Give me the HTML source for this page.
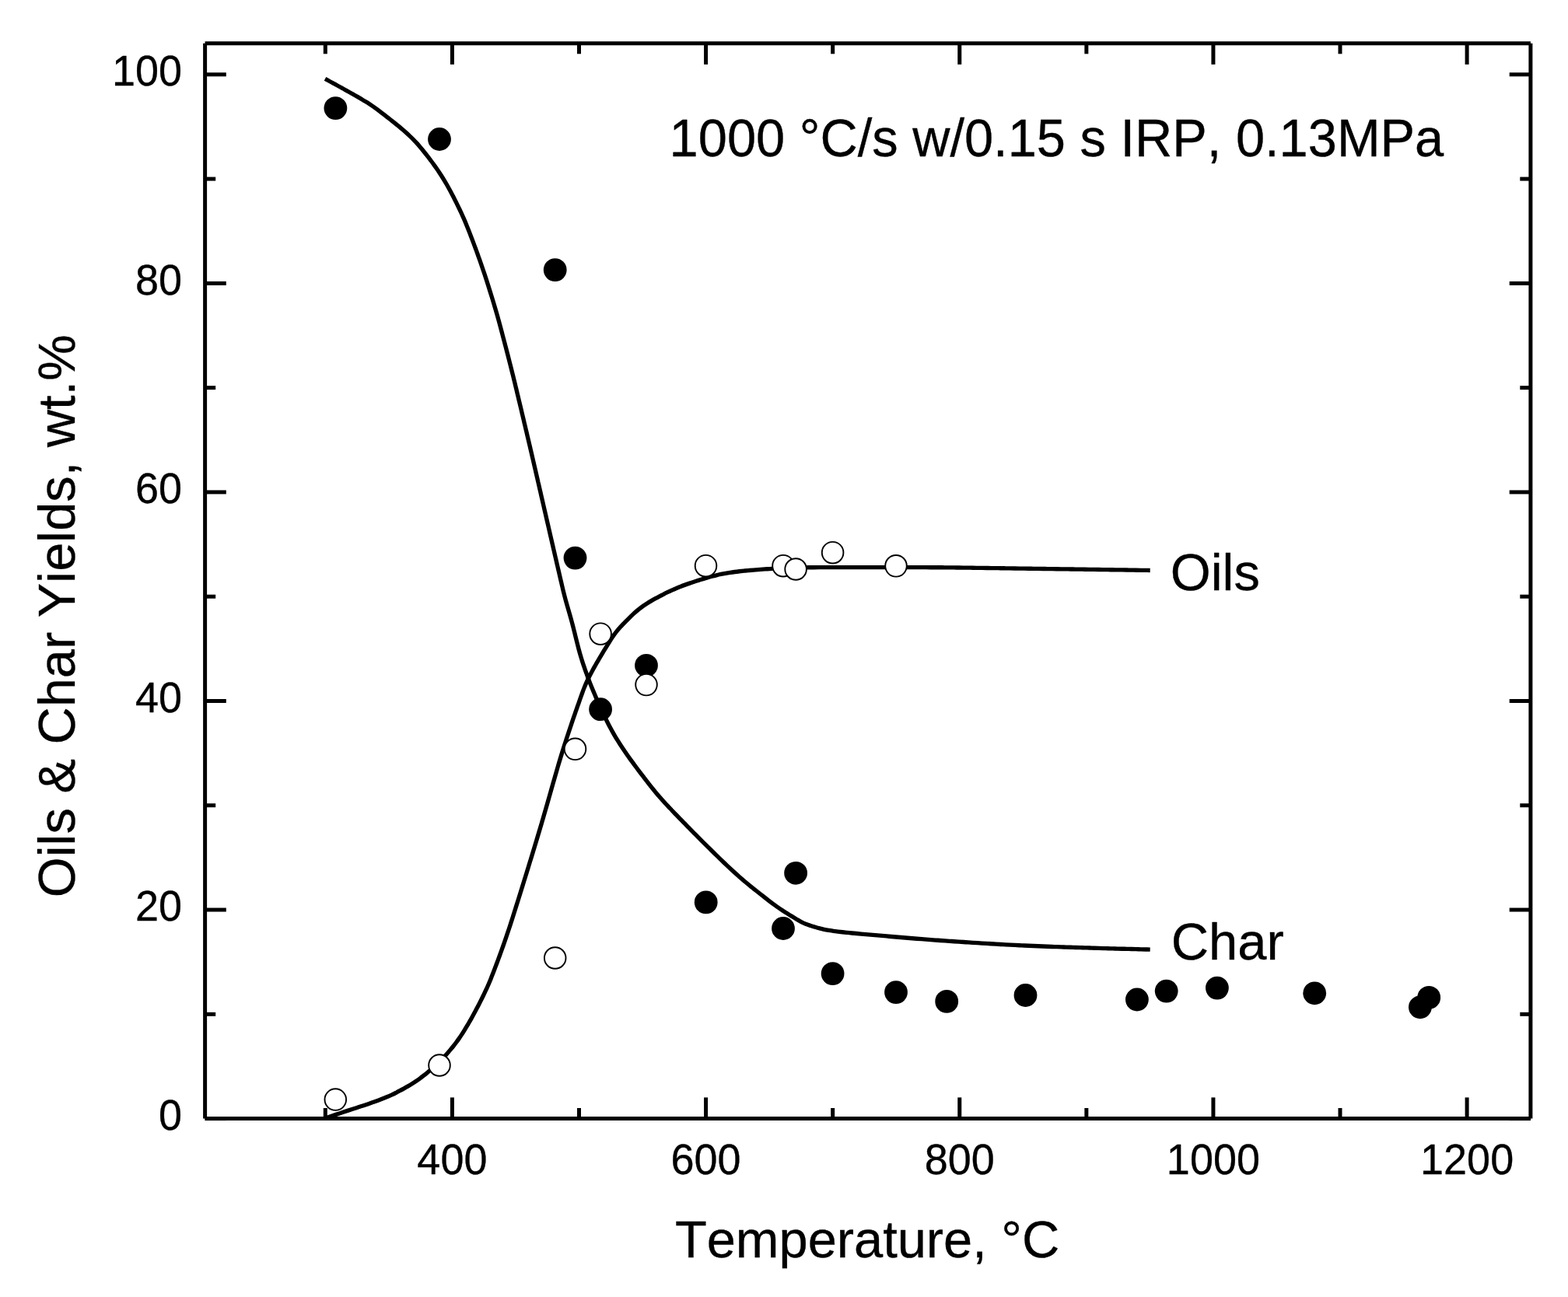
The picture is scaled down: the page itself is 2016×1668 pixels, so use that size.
<!DOCTYPE html>
<html lang="en"><head><meta charset="utf-8"><title>Oils &amp; Char Yields vs Temperature</title>
<style>html,body{margin:0;padding:0;background:#fff}body{width:2016px;height:1668px;overflow:hidden}svg{display:block}text{font-family:"Liberation Sans",sans-serif;fill:#000;stroke:#000;stroke-width:0.35px;stroke-linejoin:round;font-kerning:none}</style></head><body>
<svg width="2016" height="1668" viewBox="0 0 2016 1668">
<rect width="2016" height="1668" fill="#fff"/>
<g fill="none" stroke="#000" stroke-width="5.35" stroke-linecap="butt" stroke-linejoin="round">
<path d="M418.00 101.40C418.88 101.88 421.52 103.30 423.28 104.25C425.04 105.20 426.80 106.16 428.55 107.12C430.31 108.07 432.07 109.03 433.82 110.00C435.57 110.96 437.33 111.92 439.08 112.89C440.83 113.85 442.58 114.82 444.32 115.80C446.07 116.77 447.82 117.75 449.56 118.73C451.30 119.71 453.04 120.70 454.78 121.69C456.52 122.68 458.26 123.67 459.99 124.67C461.72 125.67 463.45 126.68 465.18 127.69C466.90 128.71 468.62 129.74 470.32 130.79C472.03 131.84 473.72 132.91 475.39 134.00C477.06 135.10 478.71 136.23 480.35 137.38C481.98 138.53 483.60 139.70 485.21 140.89C486.82 142.08 488.41 143.30 490.00 144.51C491.59 145.73 493.17 146.96 494.75 148.19C496.33 149.43 497.91 150.66 499.49 151.90C501.07 153.14 502.64 154.38 504.21 155.63C505.78 156.87 507.35 158.12 508.90 159.38C510.46 160.64 512.01 161.90 513.55 163.18C515.08 164.45 516.61 165.74 518.13 167.04C519.64 168.35 521.15 169.67 522.63 171.01C524.12 172.34 525.59 173.70 527.04 175.08C528.49 176.46 529.93 177.86 531.34 179.29C532.74 180.72 534.12 182.17 535.48 183.65C536.83 185.13 538.15 186.63 539.44 188.15C540.74 189.67 542.01 191.22 543.27 192.77C544.53 194.32 545.77 195.90 547.01 197.47C548.24 199.05 549.47 200.63 550.69 202.22C551.91 203.81 553.12 205.40 554.32 207.00C555.52 208.60 556.71 210.21 557.88 211.83C559.06 213.44 560.22 215.07 561.37 216.71C562.51 218.35 563.64 220.00 564.74 221.67C565.85 223.34 566.94 225.03 568.00 226.72C569.07 228.42 570.12 230.13 571.14 231.85C572.17 233.56 573.18 235.29 574.18 237.03C575.17 238.76 576.15 240.51 577.11 242.26C578.08 244.01 579.03 245.77 579.97 247.53C580.91 249.30 581.83 251.07 582.75 252.85C583.67 254.63 584.57 256.42 585.47 258.20C586.37 259.99 587.26 261.79 588.14 263.59C589.02 265.39 589.90 267.19 590.76 268.99C591.62 270.80 592.47 272.61 593.31 274.42C594.15 276.24 594.97 278.06 595.78 279.89C596.59 281.72 597.38 283.56 598.16 285.40C598.93 287.25 599.69 289.10 600.44 290.96C601.19 292.81 601.93 294.68 602.66 296.54C603.40 298.41 604.12 300.28 604.84 302.14C605.56 304.01 606.28 305.88 606.99 307.75C607.70 309.62 608.41 311.50 609.11 313.37C609.81 315.25 610.51 317.12 611.20 319.00C611.89 320.88 612.58 322.75 613.26 324.63C613.94 326.51 614.62 328.40 615.29 330.28C615.96 332.16 616.63 334.05 617.29 335.94C617.95 337.82 618.61 339.71 619.26 341.60C619.91 343.49 620.55 345.39 621.19 347.28C621.83 349.18 622.47 351.07 623.10 352.97C623.73 354.87 624.35 356.77 624.97 358.67C625.59 360.58 626.20 362.48 626.81 364.39C627.42 366.30 628.02 368.20 628.62 370.11C629.22 372.02 629.82 373.94 630.41 375.85C631.01 377.76 631.60 379.67 632.18 381.58C632.77 383.50 633.35 385.41 633.93 387.33C634.51 389.24 635.09 391.16 635.66 393.07C636.23 394.99 636.80 396.91 637.36 398.83C637.92 400.75 638.48 402.67 639.03 404.59C639.58 406.52 640.12 408.44 640.66 410.37C641.20 412.30 641.73 414.22 642.25 416.16C642.78 418.09 643.29 420.02 643.81 421.95C644.32 423.89 644.83 425.82 645.35 427.76C645.86 429.69 646.37 431.63 646.87 433.56C647.38 435.50 647.89 437.43 648.40 439.37C648.91 441.30 649.41 443.24 649.92 445.17C650.42 447.11 650.92 449.05 651.43 450.98C651.93 452.92 652.43 454.86 652.93 456.79C653.43 458.73 653.93 460.67 654.42 462.61C654.92 464.54 655.41 466.48 655.90 468.42C656.39 470.36 656.88 472.30 657.37 474.24C657.86 476.18 658.35 478.12 658.83 480.06C659.31 482.00 659.79 483.95 660.27 485.89C660.75 487.83 661.22 489.77 661.70 491.72C662.17 493.66 662.64 495.61 663.11 497.55C663.58 499.50 664.04 501.44 664.51 503.39C664.97 505.33 665.44 507.28 665.90 509.23C666.37 511.17 666.83 513.12 667.29 515.07C667.76 517.01 668.22 518.96 668.69 520.90C669.15 522.85 669.61 524.80 670.08 526.74C670.54 528.69 671.00 530.63 671.47 532.58C671.93 534.53 672.39 536.47 672.85 538.42C673.32 540.37 673.78 542.31 674.24 544.26C674.70 546.21 675.16 548.15 675.62 550.10C676.09 552.05 676.55 553.99 677.01 555.94C677.47 557.89 677.93 559.84 678.38 561.78C678.84 563.73 679.30 565.68 679.76 567.62C680.22 569.57 680.67 571.52 681.13 573.47C681.59 575.42 682.04 577.36 682.50 579.31C682.95 581.26 683.41 583.21 683.86 585.16C684.31 587.11 684.77 589.05 685.22 591.00C685.67 592.95 686.12 594.90 686.57 596.85C687.02 598.80 687.47 600.75 687.92 602.70C688.37 604.65 688.82 606.60 689.27 608.55C689.72 610.50 690.17 612.45 690.61 614.40C691.06 616.35 691.51 618.30 691.96 620.25C692.41 622.20 692.86 624.14 693.31 626.09C693.75 628.04 694.20 629.99 694.65 631.94C695.10 633.89 695.55 635.84 695.99 637.79C696.44 639.74 696.89 641.69 697.34 643.64C697.79 645.59 698.24 647.54 698.68 649.49C699.13 651.44 699.58 653.39 700.03 655.34C700.48 657.29 700.93 659.24 701.37 661.19C701.82 663.14 702.27 665.09 702.72 667.04C703.17 668.99 703.62 670.94 704.06 672.89C704.51 674.84 704.96 676.79 705.41 678.74C705.86 680.69 706.31 682.64 706.76 684.59C707.20 686.54 707.65 688.49 708.10 690.44C708.55 692.39 709.00 694.34 709.45 696.29C709.90 698.23 710.35 700.18 710.80 702.13C711.25 704.08 711.69 706.03 712.14 707.98C712.59 709.93 713.04 711.88 713.49 713.83C713.94 715.78 714.39 717.73 714.84 719.68C715.29 721.63 715.74 723.58 716.19 725.53C716.65 727.48 717.10 729.42 717.55 731.37C718.00 733.32 718.45 735.27 718.90 737.22C719.35 739.17 719.81 741.12 720.26 743.07C720.71 745.02 721.16 746.97 721.62 748.91C722.07 750.86 722.52 752.81 722.99 754.76C723.45 756.70 723.90 758.65 724.38 760.59C724.86 762.54 725.34 764.48 725.84 766.41C726.34 768.35 726.86 770.28 727.39 772.21C727.92 774.14 728.47 776.07 729.01 777.99C729.56 779.92 730.12 781.84 730.67 783.76C731.23 785.68 731.79 787.60 732.34 789.53C732.89 791.45 733.44 793.38 733.97 795.30C734.51 797.23 735.04 799.16 735.55 801.09C736.07 803.03 736.57 804.96 737.06 806.90C737.56 808.84 738.04 810.78 738.53 812.72C739.01 814.66 739.48 816.61 739.96 818.55C740.44 820.49 740.91 822.43 741.40 824.38C741.88 826.32 742.36 828.26 742.86 830.20C743.36 832.14 743.86 834.07 744.38 836.00C744.91 837.94 745.44 839.86 745.99 841.79C746.55 843.71 747.12 845.62 747.72 847.54C748.31 849.45 748.92 851.35 749.54 853.25C750.17 855.15 750.81 857.04 751.47 858.94C752.12 860.83 752.78 862.71 753.46 864.60C754.13 866.49 754.81 868.37 755.50 870.25C756.20 872.12 756.90 874.00 757.62 875.87C758.33 877.74 759.06 879.60 759.81 881.46C760.55 883.31 761.31 885.16 762.07 887.01C762.84 888.86 763.62 890.71 764.40 892.55C765.18 894.40 765.97 896.24 766.76 898.08C767.56 899.91 768.36 901.75 769.16 903.58C769.97 905.41 770.78 907.24 771.60 909.07C772.42 910.89 773.25 912.72 774.09 914.53C774.92 916.35 775.77 918.16 776.63 919.96C777.49 921.77 778.37 923.57 779.25 925.36C780.14 927.15 781.04 928.94 781.95 930.72C782.87 932.50 783.79 934.27 784.74 936.04C785.69 937.80 786.65 939.56 787.64 941.31C788.62 943.05 789.62 944.79 790.64 946.52C791.66 948.25 792.70 949.97 793.75 951.68C794.80 953.39 795.88 955.09 796.96 956.78C798.04 958.46 799.14 960.14 800.25 961.81C801.36 963.48 802.48 965.14 803.61 966.79C804.74 968.44 805.88 970.08 807.03 971.71C808.18 973.35 809.34 974.98 810.51 976.60C811.68 978.22 812.86 979.83 814.04 981.45C815.22 983.06 816.41 984.66 817.61 986.27C818.80 987.87 820.01 989.47 821.21 991.06C822.41 992.66 823.63 994.25 824.84 995.85C826.05 997.44 827.27 999.03 828.48 1000.62C829.70 1002.21 830.92 1003.80 832.15 1005.38C833.37 1006.96 834.60 1008.54 835.84 1010.11C837.08 1011.68 838.32 1013.25 839.58 1014.80C840.84 1016.35 842.11 1017.90 843.39 1019.44C844.68 1020.97 845.97 1022.50 847.28 1024.01C848.59 1025.53 849.91 1027.03 851.24 1028.52C852.57 1030.02 853.91 1031.50 855.26 1032.98C856.61 1034.45 857.98 1035.91 859.35 1037.37C860.72 1038.83 862.11 1040.27 863.49 1041.72C864.87 1043.17 866.26 1044.61 867.65 1046.05C869.04 1047.49 870.43 1048.93 871.82 1050.37C873.21 1051.80 874.61 1053.24 876.00 1054.67C877.40 1056.11 878.79 1057.54 880.19 1058.97C881.59 1060.40 882.99 1061.83 884.39 1063.26C885.79 1064.69 887.19 1066.11 888.60 1067.54C890.00 1068.96 891.40 1070.39 892.81 1071.81C894.22 1073.23 895.63 1074.65 897.04 1076.07C898.45 1077.49 899.86 1078.91 901.27 1080.32C902.68 1081.74 904.10 1083.15 905.52 1084.56C906.93 1085.98 908.35 1087.39 909.77 1088.80C911.19 1090.21 912.61 1091.61 914.04 1093.02C915.46 1094.43 916.89 1095.83 918.31 1097.23C919.74 1098.63 921.17 1100.04 922.60 1101.43C924.03 1102.83 925.47 1104.22 926.91 1105.62C928.34 1107.01 929.78 1108.40 931.23 1109.78C932.67 1111.16 934.12 1112.54 935.58 1113.92C937.03 1115.29 938.49 1116.66 939.96 1118.02C941.42 1119.38 942.90 1120.73 944.38 1122.08C945.86 1123.42 947.35 1124.76 948.85 1126.08C950.35 1127.41 951.86 1128.72 953.37 1130.03C954.89 1131.33 956.41 1132.63 957.94 1133.92C959.48 1135.20 961.02 1136.48 962.56 1137.75C964.11 1139.02 965.66 1140.28 967.22 1141.53C968.78 1142.79 970.34 1144.03 971.91 1145.28C973.47 1146.53 975.04 1147.77 976.62 1149.01C978.19 1150.24 979.76 1151.48 981.34 1152.71C982.91 1153.94 984.49 1155.17 986.07 1156.40C987.66 1157.62 989.24 1158.84 990.84 1160.05C992.43 1161.25 994.03 1162.45 995.65 1163.63C997.27 1164.81 998.89 1165.98 1000.53 1167.12C1002.18 1168.26 1003.84 1169.38 1005.51 1170.48C1007.18 1171.58 1008.86 1172.65 1010.55 1173.72C1012.24 1174.80 1013.95 1175.85 1015.64 1176.90C1017.34 1177.96 1019.04 1179.01 1020.75 1180.06C1022.45 1181.11 1024.14 1182.18 1025.87 1183.18C1027.59 1184.19 1029.32 1185.19 1031.10 1186.08C1032.88 1186.97 1034.71 1187.77 1036.56 1188.51C1038.42 1189.25 1040.32 1189.87 1042.22 1190.50C1044.12 1191.12 1046.05 1191.69 1047.97 1192.26C1049.89 1192.83 1051.81 1193.39 1053.75 1193.90C1055.68 1194.41 1057.62 1194.89 1059.58 1195.31C1061.53 1195.73 1063.50 1196.09 1065.47 1196.43C1067.44 1196.76 1069.42 1197.03 1071.40 1197.31C1073.38 1197.58 1075.37 1197.83 1077.35 1198.07C1079.34 1198.31 1081.33 1198.55 1083.32 1198.77C1085.30 1198.99 1087.29 1199.20 1089.28 1199.40C1091.27 1199.60 1093.27 1199.78 1095.26 1199.97C1097.25 1200.15 1099.24 1200.33 1101.24 1200.51C1103.23 1200.69 1105.22 1200.87 1107.21 1201.05C1109.21 1201.23 1111.20 1201.41 1113.19 1201.59C1115.18 1201.77 1117.18 1201.95 1119.17 1202.13C1121.16 1202.31 1123.15 1202.49 1125.15 1202.67C1127.14 1202.84 1129.13 1203.02 1131.12 1203.19C1133.12 1203.36 1135.11 1203.53 1137.10 1203.70C1139.10 1203.87 1141.09 1204.04 1143.09 1204.21C1145.08 1204.37 1147.07 1204.54 1149.07 1204.71C1151.06 1204.87 1153.05 1205.04 1155.05 1205.21C1157.04 1205.37 1159.04 1205.54 1161.03 1205.71C1163.02 1205.87 1165.02 1206.04 1167.01 1206.21C1169.00 1206.38 1171.00 1206.54 1172.99 1206.71C1174.98 1206.88 1176.98 1207.04 1178.97 1207.21C1180.97 1207.37 1182.96 1207.54 1184.95 1207.70C1186.95 1207.85 1188.94 1208.01 1190.94 1208.17C1192.93 1208.32 1194.93 1208.47 1196.92 1208.62C1198.92 1208.77 1200.91 1208.91 1202.91 1209.06C1204.90 1209.20 1206.90 1209.34 1208.89 1209.48C1210.89 1209.63 1212.89 1209.76 1214.88 1209.90C1216.88 1210.04 1218.87 1210.18 1220.87 1210.31C1222.87 1210.45 1224.86 1210.59 1226.86 1210.72C1228.85 1210.86 1230.85 1210.99 1232.85 1211.12C1234.84 1211.26 1236.84 1211.39 1238.84 1211.52C1240.83 1211.65 1242.83 1211.78 1244.82 1211.91C1246.82 1212.05 1248.82 1212.17 1250.81 1212.30C1252.81 1212.43 1254.81 1212.56 1256.80 1212.68C1258.80 1212.81 1260.80 1212.94 1262.79 1213.06C1264.79 1213.18 1266.79 1213.31 1268.78 1213.43C1270.78 1213.55 1272.78 1213.67 1274.78 1213.79C1276.77 1213.91 1278.77 1214.02 1280.77 1214.14C1282.76 1214.26 1284.76 1214.37 1286.76 1214.48C1288.76 1214.59 1290.75 1214.70 1292.75 1214.81C1294.75 1214.92 1296.75 1215.03 1298.75 1215.13C1300.74 1215.24 1302.74 1215.34 1304.74 1215.44C1306.74 1215.54 1308.74 1215.64 1310.73 1215.74C1312.73 1215.83 1314.73 1215.93 1316.73 1216.02C1318.73 1216.11 1320.73 1216.20 1322.73 1216.29C1324.72 1216.38 1326.72 1216.46 1328.72 1216.54C1330.72 1216.63 1332.72 1216.71 1334.72 1216.79C1336.72 1216.87 1338.72 1216.95 1340.72 1217.02C1342.72 1217.10 1344.72 1217.17 1346.71 1217.25C1348.71 1217.32 1350.71 1217.39 1352.71 1217.47C1354.71 1217.54 1356.71 1217.61 1358.71 1217.68C1360.71 1217.75 1362.71 1217.82 1364.71 1217.89C1366.71 1217.96 1368.71 1218.02 1370.71 1218.09C1372.71 1218.16 1374.71 1218.23 1376.71 1218.29C1378.71 1218.36 1380.71 1218.42 1382.71 1218.49C1384.70 1218.55 1386.70 1218.61 1388.70 1218.68C1390.70 1218.74 1392.70 1218.80 1394.70 1218.86C1396.70 1218.92 1398.70 1218.98 1400.70 1219.04C1402.70 1219.10 1404.70 1219.16 1406.70 1219.22C1408.70 1219.28 1410.70 1219.34 1412.70 1219.39C1414.70 1219.45 1416.70 1219.51 1418.70 1219.56C1420.70 1219.62 1422.70 1219.67 1424.70 1219.73C1426.70 1219.78 1428.70 1219.84 1430.70 1219.89C1432.70 1219.95 1434.70 1220.00 1436.70 1220.06C1438.70 1220.11 1440.70 1220.16 1442.70 1220.22C1444.70 1220.27 1446.70 1220.32 1448.70 1220.37C1450.70 1220.42 1452.70 1220.48 1454.70 1220.53C1456.70 1220.58 1458.70 1220.63 1460.70 1220.68C1462.70 1220.73 1464.70 1220.77 1466.70 1220.82C1468.70 1220.87 1470.70 1220.92 1472.70 1220.96C1474.70 1221.01 1477.70 1221.08 1478.70 1221.10"/>
<path d="M418.50 1438.00C419.45 1437.68 422.29 1436.70 424.18 1436.06C426.07 1435.41 427.97 1434.77 429.86 1434.12C431.76 1433.48 433.65 1432.84 435.55 1432.20C437.45 1431.57 439.34 1430.93 441.24 1430.30C443.14 1429.67 445.04 1429.04 446.94 1428.41C448.84 1427.79 450.74 1427.17 452.65 1426.55C454.55 1425.93 456.45 1425.31 458.36 1424.69C460.26 1424.07 462.16 1423.46 464.06 1422.83C465.97 1422.21 467.87 1421.59 469.77 1420.95C471.66 1420.32 473.56 1419.68 475.45 1419.03C477.34 1418.38 479.23 1417.73 481.12 1417.05C483.00 1416.38 484.88 1415.70 486.76 1415.00C488.63 1414.30 490.50 1413.59 492.36 1412.85C494.22 1412.11 496.08 1411.36 497.92 1410.57C499.76 1409.79 501.59 1408.98 503.40 1408.13C505.22 1407.28 507.01 1406.40 508.80 1405.50C510.59 1404.60 512.36 1403.67 514.12 1402.73C515.89 1401.79 517.65 1400.84 519.40 1399.87C521.15 1398.90 522.90 1397.92 524.62 1396.91C526.35 1395.90 528.07 1394.88 529.77 1393.82C531.46 1392.75 533.14 1391.67 534.80 1390.55C536.45 1389.43 538.09 1388.27 539.70 1387.09C541.32 1385.91 542.91 1384.70 544.48 1383.47C546.06 1382.24 547.63 1380.98 549.17 1379.70C550.72 1378.43 552.25 1377.13 553.77 1375.82C555.28 1374.51 556.78 1373.18 558.26 1371.83C559.74 1370.48 561.19 1369.11 562.63 1367.72C564.07 1366.34 565.49 1364.93 566.89 1363.50C568.29 1362.07 569.67 1360.62 571.04 1359.15C572.40 1357.68 573.75 1356.19 575.08 1354.69C576.41 1353.18 577.72 1351.66 579.01 1350.13C580.29 1348.59 581.56 1347.05 582.81 1345.48C584.05 1343.91 585.27 1342.33 586.46 1340.73C587.66 1339.13 588.83 1337.50 589.97 1335.86C591.12 1334.22 592.24 1332.56 593.34 1330.88C594.44 1329.20 595.51 1327.51 596.57 1325.80C597.63 1324.10 598.67 1322.39 599.70 1320.67C600.73 1318.96 601.75 1317.23 602.76 1315.50C603.76 1313.77 604.75 1312.04 605.74 1310.30C606.72 1308.56 607.69 1306.81 608.65 1305.06C609.61 1303.30 610.56 1301.54 611.50 1299.78C612.44 1298.01 613.36 1296.24 614.29 1294.46C615.21 1292.68 616.12 1290.90 617.03 1289.11C617.93 1287.33 618.83 1285.54 619.72 1283.74C620.61 1281.95 621.49 1280.15 622.36 1278.35C623.23 1276.55 624.09 1274.74 624.93 1272.93C625.77 1271.11 626.60 1269.29 627.40 1267.46C628.20 1265.62 628.99 1263.78 629.75 1261.93C630.52 1260.08 631.26 1258.22 632.01 1256.36C632.75 1254.50 633.47 1252.63 634.20 1250.76C634.92 1248.90 635.64 1247.02 636.35 1245.15C637.06 1243.28 637.77 1241.41 638.48 1239.54C639.18 1237.66 639.88 1235.79 640.58 1233.91C641.27 1232.03 641.96 1230.15 642.65 1228.27C643.34 1226.40 644.02 1224.51 644.69 1222.63C645.37 1220.75 646.04 1218.86 646.71 1216.98C647.37 1215.09 648.04 1213.21 648.69 1211.32C649.35 1209.43 650.00 1207.54 650.65 1205.64C651.30 1203.75 651.94 1201.86 652.58 1199.96C653.22 1198.07 653.85 1196.17 654.48 1194.27C655.10 1192.37 655.73 1190.47 656.34 1188.56C656.96 1186.66 657.57 1184.76 658.18 1182.85C658.79 1180.94 659.40 1179.04 660.00 1177.13C660.60 1175.22 661.21 1173.31 661.81 1171.40C662.41 1169.49 663.01 1167.58 663.61 1165.67C664.21 1163.76 664.81 1161.85 665.40 1159.94C666.00 1158.03 666.60 1156.12 667.20 1154.21C667.79 1152.30 668.39 1150.39 668.99 1148.48C669.58 1146.57 670.18 1144.66 670.77 1142.75C671.37 1140.84 671.96 1138.93 672.56 1137.02C673.15 1135.11 673.74 1133.20 674.33 1131.29C674.93 1129.37 675.52 1127.46 676.11 1125.55C676.70 1123.64 677.29 1121.73 677.88 1119.82C678.47 1117.90 679.05 1115.99 679.64 1114.08C680.23 1112.17 680.82 1110.25 681.40 1108.34C681.99 1106.43 682.57 1104.51 683.16 1102.60C683.74 1100.69 684.32 1098.77 684.91 1096.86C685.49 1094.95 686.07 1093.03 686.65 1091.12C687.23 1089.20 687.81 1087.29 688.39 1085.37C688.97 1083.46 689.55 1081.54 690.12 1079.62C690.70 1077.71 691.28 1075.79 691.85 1073.88C692.43 1071.96 693.00 1070.04 693.57 1068.13C694.15 1066.21 694.72 1064.29 695.29 1062.37C695.86 1060.45 696.43 1058.54 696.99 1056.62C697.56 1054.70 698.12 1052.78 698.68 1050.86C699.24 1048.94 699.80 1047.01 700.35 1045.09C700.91 1043.17 701.46 1041.25 702.01 1039.32C702.56 1037.40 703.11 1035.48 703.66 1033.55C704.21 1031.63 704.76 1029.70 705.30 1027.78C705.85 1025.85 706.39 1023.93 706.94 1022.00C707.48 1020.08 708.03 1018.15 708.57 1016.23C709.12 1014.30 709.66 1012.38 710.21 1010.45C710.76 1008.53 711.30 1006.60 711.85 1004.68C712.40 1002.75 712.95 1000.83 713.50 998.91C714.06 996.98 714.61 995.06 715.17 993.14C715.72 991.21 716.28 989.29 716.84 987.37C717.40 985.45 717.97 983.53 718.54 981.61C719.11 979.69 719.68 977.78 720.26 975.86C720.83 973.94 721.42 972.03 722.00 970.12C722.59 968.20 723.19 966.29 723.78 964.39C724.38 962.48 724.98 960.57 725.59 958.66C726.20 956.76 726.81 954.85 727.43 952.95C728.04 951.05 728.67 949.15 729.29 947.25C729.91 945.35 730.54 943.45 731.17 941.55C731.81 939.65 732.44 937.75 733.08 935.86C733.72 933.96 734.36 932.07 735.00 930.17C735.65 928.28 736.30 926.39 736.95 924.49C737.60 922.60 738.25 920.71 738.90 918.82C739.56 916.93 740.21 915.03 740.87 913.14C741.53 911.25 742.19 909.36 742.85 907.47C743.51 905.58 744.18 903.69 744.84 901.81C745.51 899.92 746.17 898.03 746.84 896.14C747.51 894.25 748.18 892.36 748.87 890.48C749.56 888.61 750.25 886.73 750.99 884.87C751.72 883.00 752.47 881.15 753.27 879.31C754.06 877.48 754.90 875.66 755.76 873.85C756.63 872.04 757.53 870.25 758.45 868.47C759.37 866.69 760.32 864.92 761.27 863.16C762.22 861.40 763.19 859.65 764.17 857.90C765.15 856.16 766.14 854.42 767.14 852.69C768.13 850.95 769.14 849.23 770.15 847.50C771.17 845.78 772.19 844.06 773.22 842.35C774.24 840.63 775.28 838.92 776.32 837.21C777.36 835.50 778.40 833.80 779.44 832.09C780.49 830.39 781.54 828.68 782.60 826.98C783.65 825.28 784.70 823.57 785.79 821.90C786.88 820.22 787.98 818.54 789.13 816.91C790.29 815.28 791.49 813.68 792.74 812.12C793.99 810.56 795.29 809.05 796.62 807.56C797.95 806.06 799.32 804.61 800.70 803.15C802.08 801.70 803.48 800.27 804.89 798.84C806.30 797.41 807.71 795.99 809.14 794.58C810.57 793.18 812.00 791.78 813.46 790.41C814.92 789.04 816.40 787.69 817.91 786.38C819.42 785.08 820.96 783.80 822.54 782.57C824.12 781.35 825.74 780.16 827.39 779.02C829.03 777.88 830.71 776.79 832.40 775.72C834.09 774.65 835.81 773.63 837.53 772.61C839.26 771.60 841.00 770.62 842.75 769.65C844.50 768.68 846.26 767.73 848.03 766.80C849.80 765.87 851.59 764.96 853.38 764.07C855.17 763.18 856.97 762.31 858.78 761.45C860.59 760.60 862.41 759.76 864.23 758.94C866.06 758.12 867.89 757.32 869.73 756.54C871.58 755.76 873.43 755.00 875.29 754.27C877.15 753.53 879.02 752.82 880.90 752.13C882.78 751.44 884.67 750.77 886.56 750.12C888.45 749.46 890.34 748.83 892.25 748.21C894.15 747.58 896.05 746.97 897.96 746.37C899.87 745.76 901.78 745.16 903.70 744.58C905.61 744.00 907.53 743.42 909.45 742.87C911.37 742.31 913.30 741.77 915.23 741.26C917.16 740.74 919.10 740.25 921.05 739.79C923.00 739.33 924.96 738.89 926.92 738.48C928.88 738.08 930.85 737.70 932.82 737.34C934.79 736.98 936.77 736.65 938.75 736.34C940.72 736.03 942.70 735.75 944.69 735.48C946.67 735.21 948.65 734.97 950.64 734.74C952.63 734.51 954.62 734.30 956.61 734.10C958.60 733.90 960.59 733.73 962.59 733.55C964.58 733.37 966.57 733.21 968.57 733.05C970.56 732.89 972.56 732.73 974.55 732.58C976.55 732.43 978.54 732.28 980.54 732.14C982.54 732.00 984.53 731.87 986.53 731.74C988.53 731.62 990.52 731.50 992.52 731.38C994.52 731.26 996.52 731.15 998.51 731.04C1000.51 730.93 1002.51 730.83 1004.51 730.73C1006.51 730.63 1008.51 730.53 1010.51 730.45C1012.51 730.37 1014.50 730.29 1016.50 730.23C1018.50 730.16 1020.50 730.11 1022.51 730.07C1024.51 730.02 1026.51 729.98 1028.51 729.94C1030.51 729.91 1032.51 729.88 1034.51 729.85C1036.51 729.82 1038.51 729.79 1040.51 729.77C1042.51 729.75 1044.51 729.73 1046.51 729.71C1048.52 729.70 1050.52 729.69 1052.52 729.68C1054.52 729.67 1056.52 729.66 1058.52 729.66C1060.52 729.65 1062.52 729.65 1064.52 729.65C1066.52 729.65 1068.53 729.65 1070.53 729.65C1072.53 729.65 1074.53 729.65 1076.53 729.65C1078.53 729.65 1080.53 729.65 1082.53 729.65C1084.53 729.65 1086.53 729.65 1088.53 729.65C1090.54 729.65 1092.54 729.65 1094.54 729.65C1096.54 729.65 1098.54 729.65 1100.54 729.65C1102.54 729.65 1104.54 729.65 1106.54 729.65C1108.54 729.65 1110.55 729.65 1112.55 729.65C1114.55 729.65 1116.55 729.65 1118.55 729.65C1120.55 729.65 1122.55 729.65 1124.55 729.65C1126.55 729.65 1128.55 729.65 1130.56 729.65C1132.56 729.65 1134.56 729.65 1136.56 729.65C1138.56 729.65 1140.56 729.65 1142.56 729.65C1144.56 729.65 1146.56 729.65 1148.56 729.65C1150.57 729.65 1152.57 729.65 1154.57 729.65C1156.57 729.65 1158.57 729.65 1160.57 729.65C1162.57 729.65 1164.57 729.65 1166.57 729.65C1168.57 729.65 1170.58 729.65 1172.58 729.65C1174.58 729.65 1176.58 729.65 1178.58 729.65C1180.58 729.65 1182.58 729.65 1184.58 729.66C1186.58 729.66 1188.58 729.67 1190.58 729.67C1192.59 729.68 1194.59 729.69 1196.59 729.70C1198.59 729.71 1200.59 729.72 1202.59 729.73C1204.59 729.74 1206.59 729.76 1208.59 729.77C1210.59 729.79 1212.60 729.80 1214.60 729.82C1216.60 729.84 1218.60 729.86 1220.60 729.88C1222.60 729.90 1224.60 729.92 1226.60 729.94C1228.60 729.96 1230.60 729.99 1232.60 730.01C1234.61 730.03 1236.61 730.06 1238.61 730.08C1240.61 730.11 1242.61 730.13 1244.61 730.16C1246.61 730.19 1248.61 730.21 1250.61 730.24C1252.61 730.26 1254.61 730.29 1256.61 730.32C1258.61 730.34 1260.62 730.37 1262.62 730.39C1264.62 730.42 1266.62 730.45 1268.62 730.47C1270.62 730.50 1272.62 730.53 1274.62 730.55C1276.62 730.58 1278.62 730.61 1280.62 730.64C1282.62 730.66 1284.63 730.69 1286.63 730.72C1288.63 730.74 1290.63 730.77 1292.63 730.80C1294.63 730.83 1296.63 730.85 1298.63 730.88C1300.63 730.91 1302.63 730.94 1304.63 730.96C1306.63 730.99 1308.63 731.02 1310.64 731.05C1312.64 731.08 1314.64 731.10 1316.64 731.13C1318.64 731.16 1320.64 731.19 1322.64 731.21C1324.64 731.24 1326.64 731.27 1328.64 731.30C1330.64 731.32 1332.64 731.35 1334.65 731.38C1336.65 731.41 1338.65 731.44 1340.65 731.46C1342.65 731.49 1344.65 731.52 1346.65 731.55C1348.65 731.57 1350.65 731.60 1352.65 731.63C1354.65 731.66 1356.65 731.69 1358.65 731.71C1360.66 731.74 1362.66 731.77 1364.66 731.80C1366.66 731.83 1368.66 731.85 1370.66 731.88C1372.66 731.91 1374.66 731.94 1376.66 731.97C1378.66 732.00 1380.66 732.02 1382.66 732.05C1384.66 732.08 1386.67 732.11 1388.67 732.14C1390.67 732.17 1392.67 732.19 1394.67 732.22C1396.67 732.25 1398.67 732.28 1400.67 732.31C1402.67 732.34 1404.67 732.37 1406.67 732.40C1408.67 732.43 1410.67 732.46 1412.68 732.49C1414.68 732.51 1416.68 732.54 1418.68 732.57C1420.68 732.60 1422.68 732.63 1424.68 732.66C1426.68 732.69 1428.68 732.72 1430.68 732.75C1432.68 732.78 1434.68 732.82 1436.68 732.85C1438.69 732.88 1440.69 732.91 1442.69 732.94C1444.69 732.97 1446.69 733.00 1448.69 733.03C1450.69 733.06 1452.69 733.09 1454.69 733.12C1456.69 733.15 1458.69 733.19 1460.69 733.22C1462.69 733.25 1464.69 733.28 1466.70 733.31C1468.70 733.34 1470.70 733.37 1472.70 733.41C1474.70 733.44 1477.70 733.48 1478.70 733.50"/>
</g>
<g stroke="#000" stroke-width="5.00" stroke-linecap="butt" fill="none">
<line x1="263.60" y1="55.70" x2="1967.90" y2="55.70"/>
<line x1="263.60" y1="1438.60" x2="1967.90" y2="1438.60"/>
<line x1="263.60" y1="55.70" x2="263.60" y2="1438.60"/>
<line x1="1967.90" y1="55.70" x2="1967.90" y2="1438.60"/>
</g>
<g stroke="#000" stroke-width="5.00" stroke-linecap="butt">
<line x1="418.31" y1="1438.60" x2="418.31" y2="1425.00"/>
<line x1="418.31" y1="55.70" x2="418.31" y2="69.30"/>
<line x1="581.40" y1="1438.60" x2="581.40" y2="1411.40"/>
<line x1="581.40" y1="55.70" x2="581.40" y2="82.90"/>
<line x1="744.49" y1="1438.60" x2="744.49" y2="1425.00"/>
<line x1="744.49" y1="55.70" x2="744.49" y2="69.30"/>
<line x1="907.57" y1="1438.60" x2="907.57" y2="1411.40"/>
<line x1="907.57" y1="55.70" x2="907.57" y2="82.90"/>
<line x1="1070.66" y1="1438.60" x2="1070.66" y2="1425.00"/>
<line x1="1070.66" y1="55.70" x2="1070.66" y2="69.30"/>
<line x1="1233.75" y1="1438.60" x2="1233.75" y2="1411.40"/>
<line x1="1233.75" y1="55.70" x2="1233.75" y2="82.90"/>
<line x1="1396.84" y1="1438.60" x2="1396.84" y2="1425.00"/>
<line x1="1396.84" y1="55.70" x2="1396.84" y2="69.30"/>
<line x1="1559.92" y1="1438.60" x2="1559.92" y2="1411.40"/>
<line x1="1559.92" y1="55.70" x2="1559.92" y2="82.90"/>
<line x1="1723.01" y1="1438.60" x2="1723.01" y2="1425.00"/>
<line x1="1723.01" y1="55.70" x2="1723.01" y2="69.30"/>
<line x1="1886.10" y1="1438.60" x2="1886.10" y2="1411.40"/>
<line x1="1886.10" y1="55.70" x2="1886.10" y2="82.90"/>
<line x1="263.60" y1="1438.60" x2="290.80" y2="1438.60"/>
<line x1="1967.90" y1="1438.60" x2="1940.70" y2="1438.60"/>
<line x1="263.60" y1="1304.32" x2="277.20" y2="1304.32"/>
<line x1="1967.90" y1="1304.32" x2="1954.30" y2="1304.32"/>
<line x1="263.60" y1="1170.04" x2="290.80" y2="1170.04"/>
<line x1="1967.90" y1="1170.04" x2="1940.70" y2="1170.04"/>
<line x1="263.60" y1="1035.76" x2="277.20" y2="1035.76"/>
<line x1="1967.90" y1="1035.76" x2="1954.30" y2="1035.76"/>
<line x1="263.60" y1="901.48" x2="290.80" y2="901.48"/>
<line x1="1967.90" y1="901.48" x2="1940.70" y2="901.48"/>
<line x1="263.60" y1="767.20" x2="277.20" y2="767.20"/>
<line x1="1967.90" y1="767.20" x2="1954.30" y2="767.20"/>
<line x1="263.60" y1="632.92" x2="290.80" y2="632.92"/>
<line x1="1967.90" y1="632.92" x2="1940.70" y2="632.92"/>
<line x1="263.60" y1="498.64" x2="277.20" y2="498.64"/>
<line x1="1967.90" y1="498.64" x2="1954.30" y2="498.64"/>
<line x1="263.60" y1="364.36" x2="290.80" y2="364.36"/>
<line x1="1967.90" y1="364.36" x2="1940.70" y2="364.36"/>
<line x1="263.60" y1="230.08" x2="277.20" y2="230.08"/>
<line x1="1967.90" y1="230.08" x2="1954.30" y2="230.08"/>
<line x1="263.60" y1="95.80" x2="290.80" y2="95.80"/>
<line x1="1967.90" y1="95.80" x2="1940.70" y2="95.80"/>
</g>
<g fill="#000">
<circle cx="431.4" cy="139.1" r="14.9"/>
<circle cx="565.0" cy="179.0" r="14.9"/>
<circle cx="713.7" cy="347.1" r="14.9"/>
<circle cx="739.5" cy="717.6" r="14.9"/>
<circle cx="772.1" cy="912.2" r="14.9"/>
<circle cx="831.0" cy="855.8" r="14.9"/>
<circle cx="907.7" cy="1160.4" r="14.9"/>
<circle cx="1007.0" cy="1194.0" r="14.9"/>
<circle cx="1023.1" cy="1122.8" r="14.9"/>
<circle cx="1070.6" cy="1252.1" r="14.9"/>
<circle cx="1152.0" cy="1276.1" r="14.9"/>
<circle cx="1217.2" cy="1287.9" r="14.9"/>
<circle cx="1318.5" cy="1280.0" r="14.9"/>
<circle cx="1461.9" cy="1285.5" r="14.9"/>
<circle cx="1499.7" cy="1274.6" r="14.9"/>
<circle cx="1564.9" cy="1270.6" r="14.9"/>
<circle cx="1690.2" cy="1277.3" r="14.9"/>
<circle cx="1825.9" cy="1295.3" r="14.9"/>
<circle cx="1837.2" cy="1282.9" r="14.9"/>
</g>
<g fill="#fff" stroke="#000" stroke-width="1.90">
<circle cx="431.3" cy="1414.1" r="13.8"/>
<circle cx="565.0" cy="1370.0" r="13.8"/>
<circle cx="713.7" cy="1232.0" r="13.8"/>
<circle cx="739.5" cy="963.3" r="13.8"/>
<circle cx="772.1" cy="815.2" r="13.8"/>
<circle cx="831.0" cy="880.6" r="13.8"/>
<circle cx="907.5" cy="727.7" r="13.8"/>
<circle cx="1007.0" cy="727.7" r="13.8"/>
<circle cx="1023.1" cy="732.0" r="13.8"/>
<circle cx="1070.6" cy="710.7" r="13.8"/>
<circle cx="1152.0" cy="727.8" r="13.8"/>
</g>
<text id="xt400" transform="translate(581.40 1510.00) scale(1 1.0405)" font-size="54" text-anchor="middle">400</text>
<text id="xt600" transform="translate(907.57 1510.00) scale(1 1.0405)" font-size="54" text-anchor="middle">600</text>
<text id="xt800" transform="translate(1233.75 1510.00) scale(1 1.0405)" font-size="54" text-anchor="middle">800</text>
<text id="xt1000" transform="translate(1559.92 1510.00) scale(1 1.0405)" font-size="54" text-anchor="middle">1000</text>
<text id="xt1200" transform="translate(1886.10 1510.00) scale(1 1.0405)" font-size="54" text-anchor="middle">1200</text>
<text id="yt0" transform="translate(234.00 1452.90) scale(1 1.0405)" font-size="54" text-anchor="end">0</text>
<text id="yt20" transform="translate(234.00 1184.34) scale(1 1.0405)" font-size="54" text-anchor="end">20</text>
<text id="yt40" transform="translate(234.00 915.78) scale(1 1.0405)" font-size="54" text-anchor="end">40</text>
<text id="yt60" transform="translate(234.00 647.22) scale(1 1.0405)" font-size="54" text-anchor="end">60</text>
<text id="yt80" transform="translate(234.00 378.66) scale(1 1.0405)" font-size="54" text-anchor="end">80</text>
<text id="yt100" transform="translate(234.00 110.10) scale(1 1.0405)" font-size="54" text-anchor="end">100</text>
<text id="ann" transform="translate(860.60 201.20) scale(1 1.0300)" font-size="66.8" text-anchor="start">1000 °C/s w/0.15 s IRP, 0.13MPa</text>
<text id="oils" transform="translate(1504.70 758.70) scale(1 1.0100)" font-size="66.9" text-anchor="start">Oils</text>
<text id="char" transform="translate(1505.70 1233.60) scale(1 1.0100)" font-size="66.9" text-anchor="start">Char</text>
<text id="xtitle" transform="translate(867.90 1616.90) scale(1 1.0100)" font-size="66.8" text-anchor="start">Temperature, °C</text>
<text id="ytitle" transform="translate(96.10 1154.20) rotate(-90) scale(1 1.0100)" font-size="66.8" text-anchor="start">Oils &amp; Char Yields, wt.%</text>
</svg></body></html>
